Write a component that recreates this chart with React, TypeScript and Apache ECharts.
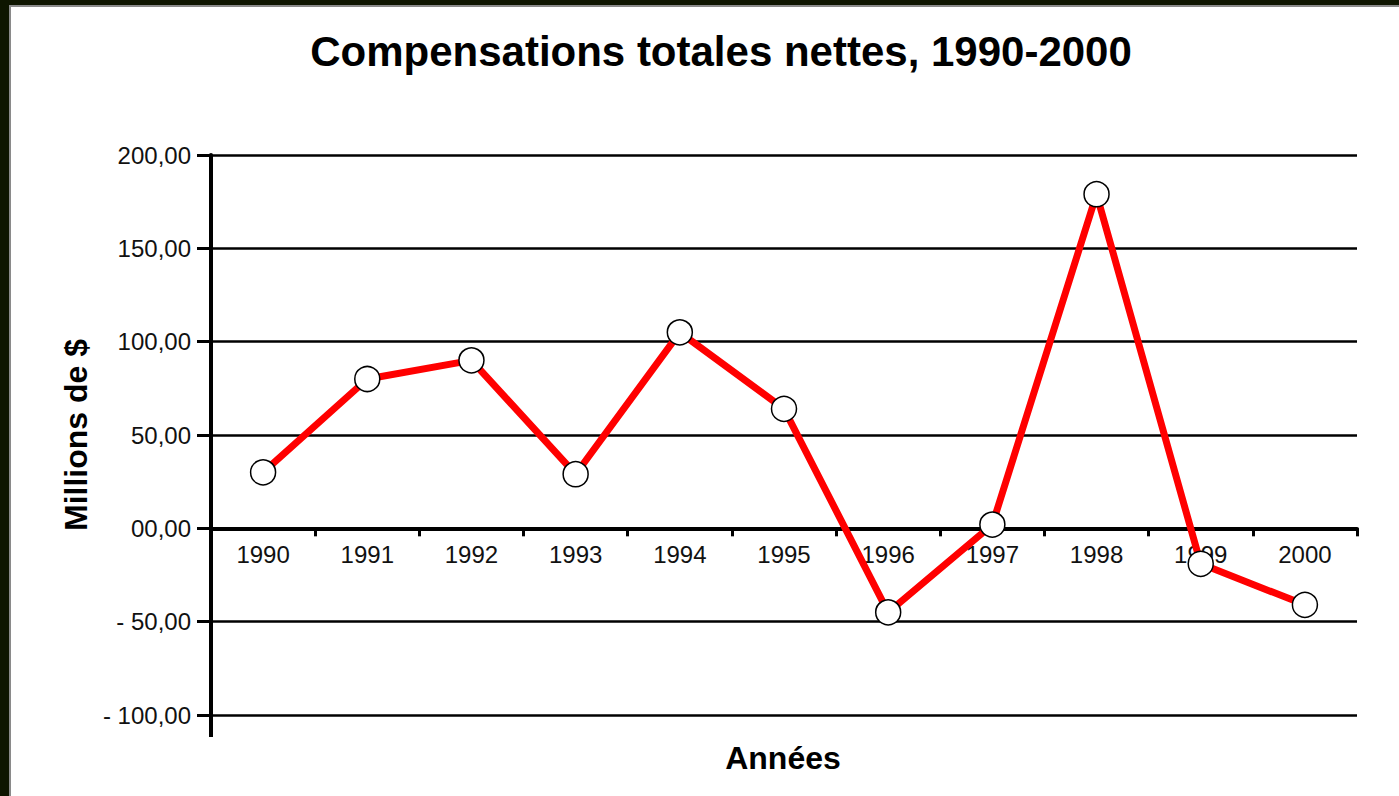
import React, { useEffect, useRef } from "react";
import * as echarts from "echarts";

const years = ["1990", "1991", "1992", "1993", "1994", "1995", "1996", "1997", "1998", "1999", "2000"];
const values = [30, 80, 90, 29, 105, 64, -45, 2, 179, -19, -41];
const yMin = -100;
const yMax = 200;
const yStep = 50;

const fmt = (v: number) => {
  const a = Math.abs(v);
  const s = (a === 0 ? "00" : String(a)) + ",00";
  return v < 0 ? "- " + s : s;
};

export default function App() {
  const ref = useRef<HTMLDivElement>(null);
  useEffect(() => {
    document.body.style.margin = "0";
    const chart = echarts.init(ref.current!, null, { renderer: "svg" });
    const H = 796;
    const gridLeft = 211;
    const gridTop = 155;
    const gridBottom = 81;
    const plotH = H - gridTop - gridBottom;
    const zeroOffset = -((0 - yMin) / (yMax - yMin)) * plotH;
    const labelFont = "Liberation Sans, Arial, sans-serif";
    chart.setOption({
      animation: false,
      backgroundColor: "#ffffff",
      title: [
        {
          text: "Compensations totales nettes, 1990-2000",
          left: 716,
          top: 25,
          textAlign: "center",
          textStyle: { fontFamily: labelFont, fontWeight: "bold", fontSize: 42, color: "#000" },
        },
        {
          text: "Années",
          left: 778,
          top: 737,
          textAlign: "center",
          textStyle: { fontFamily: labelFont, fontWeight: "bold", fontSize: 32, color: "#000" },
        },
      ],
      grid: { left: gridLeft, right: 42, top: gridTop, bottom: gridBottom },
      xAxis: {
        type: "category",
        data: years,
        boundaryGap: true,
        offset: zeroOffset,
        axisLine: { onZero: false, lineStyle: { color: "#000", width: 4 } },
        axisTick: { show: true, inside: false, length: 8, lineStyle: { color: "#000", width: 3 } },
        axisLabel: {
          margin: 14,
          fontFamily: labelFont,
          fontSize: 24,
          color: "#111",
        },
        splitLine: { show: false },
      },
      yAxis: {
        type: "value",
        min: yMin,
        max: yMax,
        interval: yStep,
        name: "Millions de $",
        nameLocation: "middle",
        nameGap: 112,
        nameTextStyle: { fontFamily: labelFont, fontWeight: "bold", fontSize: 32, color: "#000" },
        axisLine: { show: true, lineStyle: { color: "#000", width: 4 } },
        axisTick: { show: true, inside: false, length: 14, lineStyle: { color: "#000", width: 3 } },
        axisLabel: {
          margin: 20,
          formatter: (v: number) => fmt(v),
          fontFamily: labelFont,
          fontSize: 24,
          color: "#111",
        },
        splitLine: { show: true, lineStyle: { color: "#000", width: 2.5 } },
      },
      graphic: [
        {
          type: "line",
          shape: { x1: gridLeft, y1: H - gridBottom, x2: gridLeft, y2: 737 },
          style: { stroke: "#000", lineWidth: 4 },
        },
      ],
      series: [
        {
          type: "line",
          data: values,
          symbol: "circle",
          symbolSize: 25,
          lineStyle: { color: "#ff0000", width: 7 },
          itemStyle: { color: "#ffffff", borderColor: "#000", borderWidth: 1.5 },
          z: 5,
        },
      ],
    });
    return () => chart.dispose();
  }, []);
  return (
    <div style={{ position: "relative", width: 1399, height: 796, background: "#fff" }}>
      <div ref={ref} style={{ width: 1399, height: 796 }} />
      <div style={{ position: "absolute", left: 0, top: 0, width: 1399, height: 5, background: "#0e1500" }} />
      <div style={{ position: "absolute", left: 0, top: 5, width: 1399, height: 2, background: "#8a8a8a" }} />
      <div style={{ position: "absolute", left: 0, top: 0, width: 9, height: 796, background: "#0e1500" }} />
      <div style={{ position: "absolute", left: 9, top: 5, width: 2, height: 791, background: "#8a8a8a" }} />
    </div>
  );
}
